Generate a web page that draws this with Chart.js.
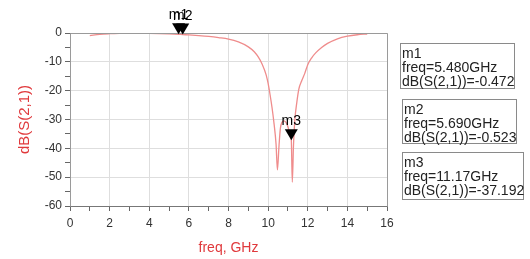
<!DOCTYPE html>
<html>
<head>
<meta charset="utf-8">
<script src="https://cdn.jsdelivr.net/npm/chart.js@4/dist/chart.umd.min.js"></script>
<style>
  html, body { margin: 0; padding: 0; background: #fff; }
  #wrap { position: relative; width: 530px; height: 259px; overflow: hidden; }
  canvas { position: absolute; left: 0; top: 0; }
  .mbox { position: absolute; border: 1px solid #8a8a8a; font-family: "Liberation Sans", Arial, sans-serif;
          font-size: 14px; line-height: 14px; color: #222; padding: 2px 0 1px 1px; box-sizing: border-box; white-space: nowrap; }
</style>
</head>
<body>
<div id="wrap">
  <canvas id="c" width="530" height="259"></canvas>
</div>
<script>
// ---- data ----
const freqGHz = [1.0,1.5,2.0,2.5,3.0,3.5,4.0,4.5,5.0,5.48,5.69,6.0,6.5,7.0,7.5,8.0,8.5,9.0,9.3,9.5,9.7,9.9,10.0,10.1,10.2,10.3,10.4,10.47,10.55,10.62,10.7,10.8,10.9,11.0,11.1,11.17,11.22,11.28,11.35,11.45,11.55,11.7,11.85,12.0,12.2,12.4,12.7,13.0,13.5,14.0,14.5,15.0];
const s21dB   = [-0.9,-0.45,-0.25,-0.15,-0.12,-0.12,-0.15,-0.22,-0.32,-0.472,-0.523,-0.65,-0.9,-1.2,-1.6,-2.1,-3.1,-4.8,-6.5,-8.3,-10.8,-14.5,-17.5,-21.5,-26,-31.5,-38.5,-47.5,-39,-33,-31,-30.5,-31,-32.5,-35,-37.192,-51.7,-39,-30,-24,-19.5,-16.5,-14,-11,-8.6,-6.9,-5.0,-3.6,-2.0,-1.1,-0.6,-0.35];

const markerNames = ["m1","m2","m3"];
const markerFreq  = [5.480, 5.690, 11.17];
const markerDb    = [-0.472, -0.523, -37.192];
const markerFreqText = ["5.480GHz","5.690GHz","11.17GHz"];
const markerDbText   = ["-0.472","-0.523","-37.192"];

const xTickLabels = [0,2,4,6,8,10,12,14,16];
const yTickLabels = [0,-10,-20,-30,-40,-50,-60];

const xTitle = "freq, GHz";
const yTitle = "dB(S(2,1))";
const traceName = "dB(S(2,1))";

// ---- marker readout boxes ----
const boxPos = [[400,43,115,46],[402,99,115,45],[402,152,122,48]];
const wrap = document.getElementById('wrap');
markerNames.forEach((n,i)=>{
  const d = document.createElement('div');
  d.className = 'mbox';
  d.style.left = boxPos[i][0]+'px'; d.style.top = boxPos[i][1]+'px';
  d.style.width = boxPos[i][2]+'px'; d.style.height = boxPos[i][3]+'px';
  d.innerHTML = n + '<br>freq=' + markerFreqText[i] + '<br>' + traceName + '=' + markerDbText[i];
  wrap.appendChild(d);
});

const FONT = '"Liberation Sans", Arial, sans-serif';
const RED = '#e0393c';

const overlay = {
  id: 'overlay',
  afterDatasetsDraw(chart) {
    const {ctx, chartArea: a, scales: {x, y}} = chart;
    ctx.save();
    // plot frame
    ctx.strokeStyle = '#9a9a9a';
    ctx.lineWidth = 1;
    ctx.beginPath();
    ctx.moveTo(a.left+0.5, a.bottom+0.5);
    ctx.lineTo(a.left+0.5, a.top+0.5);
    ctx.lineTo(a.right+0.5, a.top+0.5);
    ctx.lineTo(a.right+0.5, a.bottom+0.5);
    ctx.stroke();
    // markers
    markerNames.forEach((n,i)=>{
      const px = x.getPixelForValue(markerFreq[i]);
      const py = y.getPixelForValue(markerDb[i]);
      ctx.fillStyle = '#000';
      ctx.beginPath();
      ctx.moveTo(px, py);
      ctx.lineTo(px-6.5, py-11);
      ctx.lineTo(px+6.5, py-11);
      ctx.closePath();
      ctx.fill();
      ctx.font = '14px ' + FONT;
      ctx.textAlign = 'center';
      ctx.textBaseline = 'alphabetic';
      ctx.fillText(n, px, py-15);
    });
    ctx.restore();
  }
};

new Chart(document.getElementById('c'), {
  type: 'scatter',
  data: {
    datasets: [{
      label: traceName,
      data: freqGHz.map((f,i)=>({x:f, y:s21dB[i]})),
      showLine: true,
      borderColor: '#ef8c8c',
      borderWidth: 1.3,
      pointRadius: 0,
      cubicInterpolationMode: 'monotone',
      fill: false
    }]
  },
  options: {
    responsive: false,
    animation: false,
    devicePixelRatio: 1,
    layout: { padding: { top: 33, right: 143, left: 0, bottom: 0 } },
    plugins: { legend: { display: false }, tooltip: { enabled: false } },
    scales: {
      x: {
        type: 'linear', min: 0, max: 16,
        afterFit(s) { s.height = 53; },
        border: { display: true, color: '#777', width: 1 },
        grid: {
          color: c => (c.tick && xTickLabels.includes(c.tick.value)) ? '#dedede' : 'rgba(0,0,0,0)',
          tickColor: '#666', tickLength: 5, drawTicks: true
        },
        ticks: {
          stepSize: 1, autoSkip: false, maxRotation: 0, padding: 5,
          color: '#333', font: { family: FONT, size: 12 },
          callback: v => xTickLabels.includes(v) ? String(v) : ''
        },
        title: { display: true, text: xTitle, color: RED,
                 font: { family: FONT, size: 14, lineHeight: 1.2 }, padding: { top: 0, bottom: 2 } }
      },
      y: {
        type: 'linear', min: -60, max: 0,
        afterFit(s) { s.width = 70; },
        border: { display: true, color: '#777', width: 1 },
        grid: {
          color: c => (c.tick && yTickLabels.includes(c.tick.value)) ? '#dedede' : 'rgba(0,0,0,0)',
          tickColor: '#666', tickLength: 5, drawTicks: true
        },
        ticks: {
          stepSize: 5, autoSkip: false, padding: 3,
          color: '#333', font: { family: FONT, size: 12 },
          callback: v => yTickLabels.includes(v) ? String(v) : ''
        },
        title: { display: true, text: yTitle, color: RED,
                 font: { family: FONT, size: 15, lineHeight: 1.2 }, padding: { top: 16, bottom: 0 } }
      }
    }
  },
  plugins: [overlay]
});
</script>
</body>
</html>
